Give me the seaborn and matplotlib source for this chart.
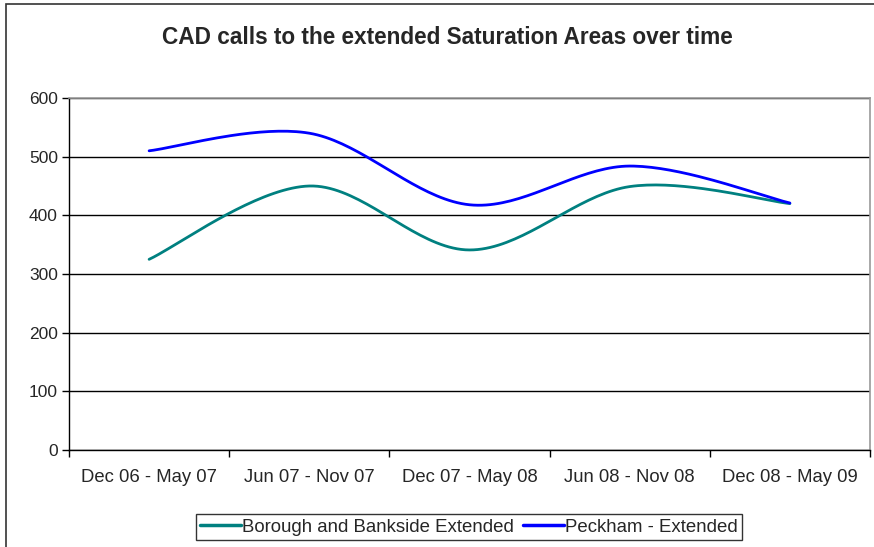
import numpy as np
import pandas as pd
import matplotlib
matplotlib.use("Agg")
import matplotlib.pyplot as plt
import seaborn as sns
from matplotlib.lines import Line2D
from matplotlib.patches import Rectangle

categories = ["Dec 06 - May 07", "Jun 07 - Nov 07", "Dec 07 - May 08",
              "Jun 08 - Nov 08", "Dec 08 - May 09"]
borough = [325, 450, 341, 449, 420]
peckham = [510, 540, 418, 484, 421]
series_names = ["Borough and Bankside Extended", "Peckham - Extended"]
colors = ["#008080", "#0000FF"]
yticks = [0, 100, 200, 300, 400, 500, 600]

sns.set_theme(style="white")
plt.rcParams['font.family'] = ['Liberation Sans', 'DejaVu Sans']


def excel_smooth(y, n=40):
    """Excel-style smoothed line (cubic Bezier with 1/6 tangents)."""
    x = np.arange(len(y), dtype=float)
    y = np.asarray(y, dtype=float)
    pts = np.column_stack([x, y])
    out = []
    for i in range(len(pts) - 1):
        p0 = pts[i]
        p3 = pts[i + 1]
        pm = pts[i - 1] if i > 0 else pts[i]
        pp = pts[i + 2] if i + 2 < len(pts) else pts[i + 1]
        c1 = p0 + (p3 - pm) / 6.0
        c2 = p3 - (pp - p0) / 6.0
        t = np.linspace(0, 1, n)[:, None]
        seg = ((1 - t) ** 3) * p0 + 3 * ((1 - t) ** 2) * t * c1 + 3 * (1 - t) * t ** 2 * c2 + t ** 3 * p3
        out.append(seg if i == 0 else seg[1:])
    return np.vstack(out)


frames = []
for name, vals in zip(series_names, [borough, peckham]):
    s = excel_smooth(vals)
    frames.append(pd.DataFrame({"x": s[:, 0], "y": s[:, 1], "series": name}))
df = pd.concat(frames, ignore_index=True)

fig = plt.figure(figsize=(8.74, 5.47), dpi=100)
ax = fig.add_axes([69 / 874, 1 - 450 / 547, (870 - 69) / 874, (450 - 98) / 547])

sns.lineplot(data=df, x="x", y="y", hue="series", palette=colors, sort=False,
             estimator=None, linewidth=2.0, legend=False, ax=ax)

ax.set_xlim(-0.5, len(categories) - 0.5)
ax.set_ylim(0, 600)
ax.set_yticks(yticks)
ax.set_yticklabels([str(v) for v in yticks], fontsize=12.5)
ax.set_xticks(np.arange(-0.5, len(categories), 1.0))
ax.set_xticklabels([])
ax.set_xticks(np.arange(len(categories)), minor=True)
ax.set_xticklabels(categories, minor=True, fontsize=13.3)
ax.tick_params(axis="x", which="major", direction="out", length=5, width=1, color="black", bottom=True)
ax.tick_params(axis="x", which="minor", length=0, pad=14)
ax.tick_params(axis="y", direction="out", length=5, width=1, color="black", left=True, pad=3)
ax.set_xlabel("")
ax.set_ylabel("")

ax.yaxis.grid(True, color="black", linewidth=1.0)
ax.xaxis.grid(False)
for side in ["left", "bottom"]:
    ax.spines[side].set_color("black")
    ax.spines[side].set_linewidth(1.0)
for side in ["top", "right"]:
    ax.spines[side].set_color("#999999")
    ax.spines[side].set_linewidth(1.2)

fig.text(0.5 * (157 + 737) / 874, 1 - 37 / 547,
         "CAD calls to the extended Saturation Areas over time",
         ha="center", va="center", fontsize=16.3, fontweight="bold")

handles = [Line2D([0], [0], color=c, lw=2.5) for c in colors]
leg = fig.legend(handles, series_names, loc="center", ncol=2,
                 bbox_to_anchor=(469 / 874, 1 - 527 / 547), fontsize=13.4,
                 frameon=True, fancybox=False, edgecolor="black",
                 handlelength=2.2, handletextpad=0.05, columnspacing=0.5,
                 borderpad=0.25)
leg.get_frame().set_linewidth(1.0)

fig.patches.append(Rectangle((6 / 874, -0.1), 2, 1 - 4 / 547 + 0.1,
                             transform=fig.transFigure, fill=False,
                             edgecolor="#333333", linewidth=1.2))

fig.savefig("out.png", dpi=100)
